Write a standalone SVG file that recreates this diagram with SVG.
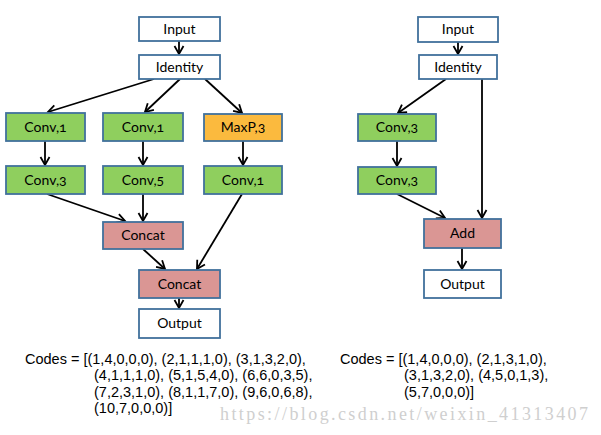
<svg xmlns="http://www.w3.org/2000/svg" width="601" height="435" viewBox="0 0 601 435">
<style>
.n rect{stroke:#41719C;stroke-width:1.8}
.w{fill:#FFFFFF}.g{fill:#8FCF5E}.o{fill:#FBBA3E}.p{fill:#DA9694}
.n text{font-family:Lato,"Open Sans","Liberation Sans",sans-serif;font-size:14px;fill:#000;text-anchor:middle;font-variant-numeric:oldstyle-nums}
#edges line{stroke:#000;stroke-width:1.8;marker-end:url(#ah)}
.code{font-family:"Liberation Sans",Arial,sans-serif;font-size:14.5px;fill:#000}
.wm{font-family:"Liberation Serif","DejaVu Serif",serif;font-size:18px;fill:#CFCFCF}
</style>
<defs>
<marker id="ah" markerUnits="userSpaceOnUse" markerWidth="12" markerHeight="12" viewBox="-10 -6 12 12" refX="0" refY="0" orient="auto">
<path d="M-8,-4.5 L0,0 L-8,4.5" fill="none" stroke="#000" stroke-width="1.8"/>
</marker>
</defs>
<rect width="601" height="435" fill="#FFFFFF"/>
<g id="edges">
<line x1="179" y1="41" x2="179" y2="54"/>
<line x1="154" y1="79" x2="48" y2="112"/>
<line x1="180" y1="79" x2="145" y2="112"/>
<line x1="205" y1="79" x2="242" y2="113"/>
<line x1="45" y1="141" x2="45" y2="165"/>
<line x1="143" y1="141" x2="143" y2="165"/>
<line x1="243" y1="141" x2="243" y2="165"/>
<line x1="47" y1="194" x2="125" y2="221"/>
<line x1="143" y1="194" x2="143" y2="221"/>
<line x1="242" y1="194" x2="197" y2="269"/>
<line x1="143" y1="249" x2="165" y2="269"/>
<line x1="179" y1="298" x2="179" y2="308"/>
<line x1="458" y1="42" x2="458" y2="54"/>
<line x1="446" y1="79" x2="398" y2="113"/>
<line x1="482" y1="79" x2="482" y2="218"/>
<line x1="397" y1="141" x2="397" y2="166"/>
<line x1="397" y1="194" x2="445" y2="218"/>
<line x1="462" y1="248" x2="462" y2="269"/>
</g>
<g id="inputL" class="n"><rect class="w" x="139" y="17" width="81" height="24"/><text x="179.5" y="34">Input</text></g>
<g id="identityL" class="n"><rect class="w" x="139" y="55" width="81" height="24"/><text x="179.5" y="72">Identity</text></g>
<g id="conv1a" class="n"><rect class="g" x="6" y="113" width="79" height="28"/><text x="45.5" y="132">Conv,1</text></g>
<g id="conv1b" class="n"><rect class="g" x="103" y="113" width="80" height="28"/><text x="143" y="132">Conv,1</text></g>
<g id="maxp3" class="n"><rect class="o" x="204" y="114" width="78" height="27"/><text x="243" y="132">MaxP,3</text></g>
<g id="conv3a" class="n"><rect class="g" x="6" y="166" width="79" height="28"/><text x="45.5" y="185">Conv,3</text></g>
<g id="conv5" class="n"><rect class="g" x="103" y="166" width="80" height="28"/><text x="143" y="185">Conv,5</text></g>
<g id="conv1c" class="n"><rect class="g" x="204" y="166" width="78" height="28"/><text x="243" y="185">Conv,1</text></g>
<g id="concat1" class="n"><rect class="p" x="103" y="222" width="80" height="27"/><text x="143" y="240">Concat</text></g>
<g id="concat2" class="n"><rect class="p" x="139" y="270" width="81" height="28"/><text x="179.5" y="289">Concat</text></g>
<g id="outputL" class="n"><rect class="w" x="139" y="309" width="81" height="29"/><text x="179.5" y="328">Output</text></g>
<g id="inputR" class="n"><rect class="w" x="418" y="17" width="80" height="25"/><text x="458" y="34">Input</text></g>
<g id="identityR" class="n"><rect class="w" x="419" y="55" width="78" height="24"/><text x="458" y="72">Identity</text></g>
<g id="conv3b" class="n"><rect class="g" x="358" y="114" width="78" height="27"/><text x="397" y="132">Conv,3</text></g>
<g id="conv3c" class="n"><rect class="g" x="358" y="167" width="78" height="27"/><text x="397" y="185">Conv,3</text></g>
<g id="add" class="n"><rect class="p" x="424" y="219" width="77" height="29"/><text x="462.5" y="238">Add</text></g>
<g id="outputR" class="n"><rect class="w" x="424" y="270" width="77" height="28"/><text x="462.5" y="289">Output</text></g>
<text class="wm" x="220" y="420" textLength="368" lengthAdjust="spacing">https://blog.csdn.net/weixin_41313407</text>
<g id="codesL" class="code">
<text x="25" y="364">Codes = [(1,4,0,0,0), (2,1,1,1,0), (3,1,3,2,0),</text>
<text x="94" y="380">(4,1,1,1,0), (5,1,5,4,0), (6,6,0,3,5),</text>
<text x="94" y="397">(7,2,3,1,0), (8,1,1,7,0), (9,6,0,6,8),</text>
<text x="94" y="413">(10,7,0,0,0)]</text>
</g>
<g id="codesR" class="code">
<text x="340" y="364">Codes = [(1,4,0,0,0), (2,1,3,1,0),</text>
<text x="404" y="380">(3,1,3,2,0), (4,5,0,1,3),</text>
<text x="404" y="397">(5,7,0,0,0)]</text>
</g>
</svg>
